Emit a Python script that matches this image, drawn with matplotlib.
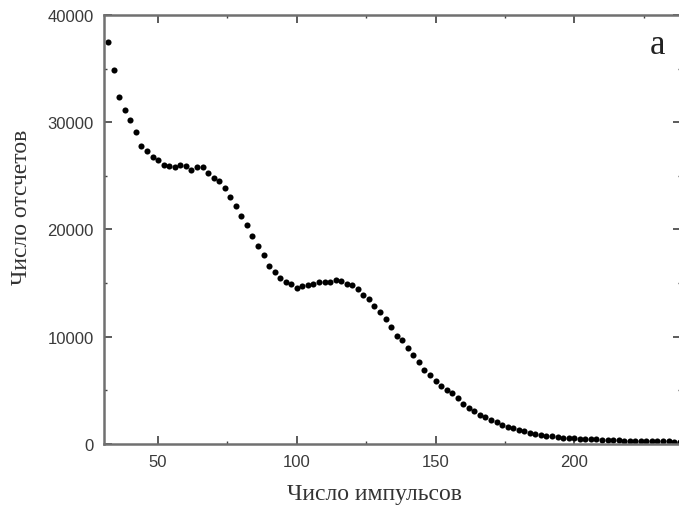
import matplotlib.pyplot as plt
from matplotlib.ticker import MultipleLocator

# Данные спектра: номер канала (число импульсов) и число отсчетов
channels = [32, 34, 36, 38, 40, 42, 44, 46, 48, 50,
            52, 54, 56, 58, 60, 62, 64, 66, 68, 70,
            72, 74, 76, 78, 80, 82, 84, 86, 88, 90,
            92, 94, 96, 98, 100, 102, 104, 106, 108, 110,
            112, 114, 116, 118, 120, 122, 124, 126, 128, 130,
            132, 134, 136, 138, 140, 142, 144, 146, 148, 150,
            152, 154, 156, 158, 160, 162, 164, 166, 168, 170,
            172, 174, 176, 178, 180, 182, 184, 186, 188, 190,
            192, 194, 196, 198, 200, 202, 204, 206, 208, 210,
            212, 214, 216, 218, 220, 222, 224, 226, 228, 230,
            232, 234, 236, 238]
counts = [37490, 34860, 32370, 31160, 30170, 29110, 27800, 27280, 26720, 26470,
          26030, 25880, 25820, 26000, 25940, 25570, 25850, 25790, 25260, 24760,
          24480, 23860, 23050, 22150, 21250, 20380, 19360, 18480, 17640, 16560,
          16060, 15470, 15070, 14910, 14510, 14700, 14820, 14910, 15070, 15100,
          15150, 15310, 15160, 14900, 14850, 14450, 13890, 13510, 12830, 12330,
          11650, 10880, 10090, 9720, 8920, 8290, 7610, 6920, 6430, 5900,
          5430, 5060, 4720, 4290, 3730, 3330, 3050, 2730, 2490, 2260,
          2020, 1800, 1610, 1460, 1300, 1180, 1030, 930, 840, 770,
          710, 650, 600, 560, 520, 490, 460, 440, 420, 400,
          380, 360, 340, 320, 310, 300, 290, 280, 270, 260,
          250, 240, 230, 220]

x_ticks = [50, 100, 150, 200]
y_ticks = [0, 10000, 20000, 30000, 40000]

fig = plt.figure(figsize=(6.79, 5.10), dpi=100)
ax = fig.add_axes([0.1532, 0.1275, 0.8498, 0.8411])

ax.plot(channels, counts, 'o', color='black', markersize=4.4, markeredgewidth=0)

ax.set_xlim(30.5, 238.5)
ax.set_ylim(0, 40000)
ax.set_xticks(x_ticks)
ax.set_yticks(y_ticks)
ax.xaxis.set_minor_locator(MultipleLocator(25))
ax.yaxis.set_minor_locator(MultipleLocator(5000))

for sp in ax.spines.values():
    sp.set_color('#707070')
    sp.set_linewidth(1.8)

ax.tick_params(which='both', direction='in', top=True, right=True,
               color='#404040', labelcolor='#3a3a3a')
ax.tick_params(which='major', length=6, width=1.2, labelsize=12, pad=7.5)
ax.tick_params(which='minor', length=2.5, width=1.0)
for lab in ax.get_xticklabels() + ax.get_yticklabels():
    lab.set_family('Liberation Sans')

ax.set_xlabel('Число импульсов', family='Liberation Serif', fontsize=17,
              color='#333333')
ax.set_ylabel('Число отсчетов', family='Liberation Serif', fontsize=17,
              color='#333333')
ax.xaxis.set_label_coords(0.468, -0.09)
ax.yaxis.set_label_coords(-0.125, 0.555)

fig.text(0.9676, 0.91, 'a', family='Liberation Serif', fontsize=25,
         color='#222222', ha='center', va='center')

fig.savefig('out.png', dpi=100)
